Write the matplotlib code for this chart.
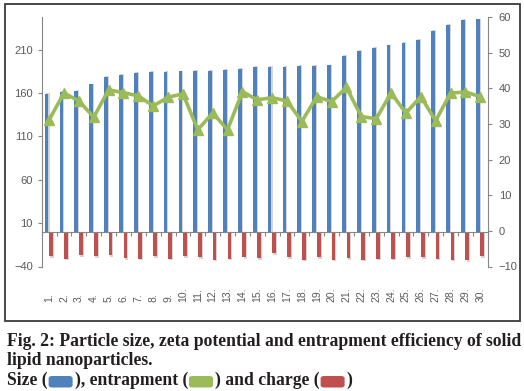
import matplotlib
matplotlib.use('Agg')
import matplotlib.pyplot as plt
import matplotlib.transforms as mtransforms
from matplotlib.patches import Rectangle, FancyBboxPatch

# 数据
samples = list(range(1, 31))
tick_labels = ['%d.' % i for i in samples]
size = [159, 161, 163, 170, 179, 181, 183, 184, 184, 185,
        186, 186, 187, 188, 190, 190, 190, 191, 191, 192,
        203, 209, 212, 215, 218, 221, 232, 239, 244, 245]
charge = [-28, -31, -27, -28, -27, -30, -31, -28, -31, -28,
          -29, -32, -31, -29, -30, -25, -29, -32, -29, -32,
          -30, -32, -31, -31, -29, -29, -31, -32, -33, -28]
entrapment = [31.2, 38.7, 36.5, 31.9, 39.6, 38.8, 37.9, 35.1, 37.5, 38.5,
              28.4, 33.1, 28.4, 39.1, 36.8, 37.4, 36.5, 30.7, 37.7, 36.3,
              40.3, 32.1, 31.5, 38.7, 33.1, 37.7, 30.9, 38.7, 39.0, 37.7]

BLUE = '#4F81BD'
GREEN = '#9BBB59'
RED = '#C0504D'
GRAY = '#868686'
TXT = '#595959'

plt.rcParams['font.family'] = ['Liberation Sans', 'DejaVu Sans']

fig = plt.figure(figsize=(5.24, 3.91), dpi=100)
ax = fig.add_axes([41.7 / 524, 1 - 266.5 / 391, 446 / 524, 249.3 / 391])

# 柱子 + 阴影
bw = 0.25
xb = [x - 0.17 for x in samples]
xr = [x + 0.13 for x in samples]
ax.bar([x + 0.07 for x in xb], [v + 1 for v in size], width=bw, color='#d4d4d4', zorder=1)
ax.bar([x + 0.07 for x in xr], [v - 2 for v in charge], width=bw, color='#d4d4d4', zorder=1)
ax.bar(xb, size, width=bw, color=BLUE, zorder=2)
ax.bar(xr, charge, width=bw, color=RED, zorder=2)

ax.set_xlim(0.5, 30.5)
ax.set_ylim(-40, 247.6)
ax.set_yticks([-40, 10, 60, 110, 160, 210])
ax.tick_params(axis='y', colors=GRAY, labelcolor=TXT, labelsize=8, length=3, width=0.8)
for s in ['top', 'right']:
    ax.spines[s].set_visible(False)
ax.spines['left'].set_color(GRAY)
ax.spines['bottom'].set_color(GRAY)
ax.spines['bottom'].set_position(('data', 0))
ax.set_xticks(samples)
ax.set_xticklabels([])
ax.tick_params(axis='x', which='major', length=0)
ax.set_xticks([x + 0.5 for x in [0] + samples], minor=True)
ax.tick_params(axis='x', which='minor', length=3, color=GRAY, width=0.8)

trans = mtransforms.blended_transform_factory(ax.transData, ax.transAxes)
for x, lab in zip(samples, tick_labels):
    ax.text(x, -0.142, lab, transform=trans, rotation=90, ha='center', va='bottom',
            fontsize=7.5, color=TXT)

# 包封率 (右轴)
ax2 = ax.twinx()
ax2.plot(samples, entrapment, color=GREEN, lw=2.6, marker='^', ms=7.5,
         markerfacecolor=GREEN, markeredgecolor=GREEN, zorder=5)
ax2.set_ylim(-10, 60)
ax2.set_yticks(range(-10, 61, 10))
ax2.tick_params(axis='y', colors=GRAY, labelcolor=TXT, labelsize=8, length=3, width=0.8, pad=5)
for s in ['top', 'left', 'bottom']:
    ax2.spines[s].set_visible(False)
ax2.spines['right'].set_color(GRAY)

# 外框
fig.patches.append(Rectangle((5 / 524, 1 - 320.5 / 391), 515 / 524, 316.5 / 391,
                             transform=fig.transFigure, fill=False,
                             edgecolor='#3a3a3a', lw=1.3))

# 图注
renderer = fig.canvas.get_renderer()
cap = dict(family=['Liberation Serif', 'DejaVu Serif'], fontweight='bold',
           fontsize=10.8, color='#231f20', va='baseline')
t1 = fig.text(7 / 524, 1 - 346.5 / 391,
              'Fig. 2: Particle size, zeta potential and entrapment efficiency of solid', **cap)
w = t1.get_window_extent(renderer).width
cap['fontsize'] = cap['fontsize'] * 512 / w
t1.set_fontsize(cap['fontsize'])
fig.text(7 / 524, 1 - 365 / 391, 'lipid nanoparticles.', **cap)

pieces = ['Size (', '), entrapment (', ') and charge (', ')']
colors = [BLUE, GREEN, RED, None]
x = 7
y3 = 1 - 384.5 / 391
for text, c in zip(pieces, colors):
    t = fig.text(x / 524, y3, text, **cap)
    bb = t.get_window_extent(renderer)
    x = bb.x1 + 1
    if c is not None:
        fig.patches.append(FancyBboxPatch((x / 524, 1 - 387.5 / 391), 24 / 524, 11.5 / 391,
                                          boxstyle='round,pad=0,rounding_size=0.006',
                                          transform=fig.transFigure, facecolor=c,
                                          edgecolor='none'))
        x += 26

fig.savefig('out.png', dpi=100)
